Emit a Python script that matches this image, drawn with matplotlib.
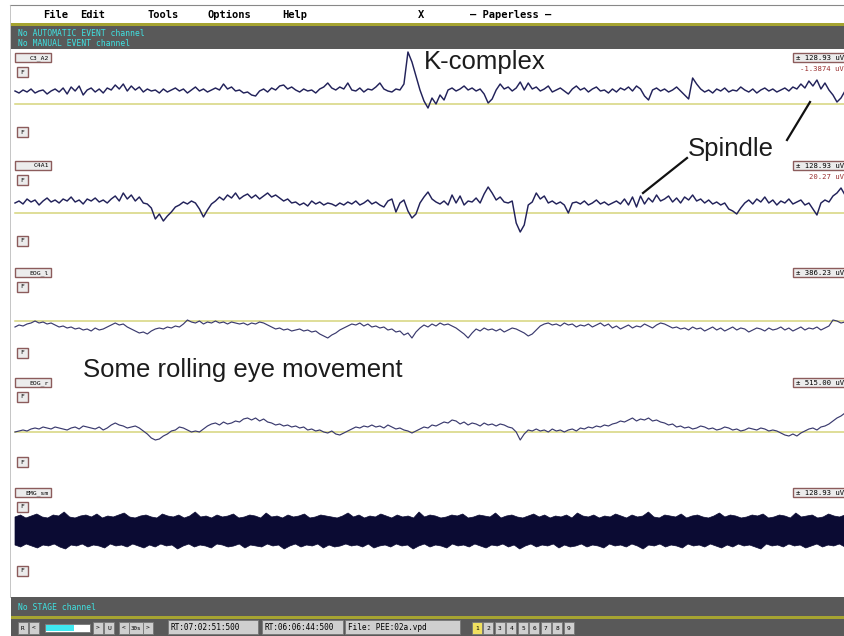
import numpy as np
import matplotlib.pyplot as plt
from matplotlib.patches import Rectangle

# ---- chart content ----
channels = ['C3_A2', 'C4A1', 'EOG_l', 'EOG_r', 'EMG_sm']
scales = ['± 128.93 uV', '± 128.93 uV', '± 386.23 uV', '± 515.00 uV', '± 128.93 uV']
cursor_vals = ['-1.3874 uV', '20.27 uV', '', '', '']
menu_items = ['File', 'Edit', 'Tools', 'Options', 'Help']
page_buttons = ['1', '2', '3', '4', '5', '6', '7', '8', '9']
status_boxes = ['RT:07:02:51:500', 'RT:06:06:44:500', 'File: PEE:02a.vpd']

# traces (screen pixels above each channel baseline)
c3a2 = [1, -1, 2, 0, 3, -1, 1, 2, -2, 1,
        3, 0, 4, -2, 5, 1, 6, -3, 2, 4,
        0, 3, -1, 4, 2, 7, 3, 8, 1, 6,
        2, 5, 0, 3, 1, 2, -1, 3, 0, 2,
        4, 1, 3, -1, 2, 5, 1, 3, 0, 2,
        4, 2, 8, 3, 5, 1, 2, -1, 0, -3,
        -4, 1, 3, 0, 4, 2, 6, 7, 3, 5,
        2, 0, 3, 1, 2, -1, 3, 5, 9, 4,
        2, 5, 3, 9, 2, 1, 4, 0, 3, 2,
        5, 9, 3, 1, 0, 3, 2, 8, 40, 30,
        16, 2, -9, -16, -6, -12, -3, -8, 2, 4,
        1, 3, 6, 2, 4, 1, 3, -2, -11, -7,
        2, 8, 3, 5, 1, 4, 10, 2, 9, 3,
        5, 1, 3, 6, 0, 2, 4, 1, -2, 3,
        6, 2, 4, 0, 3, 5, 1, 2, -1, 3,
        0, 4, 2, 5, 1, 6, 3, -4, -8, 2,
        4, 1, 3, 0, 2, 5, 1, -3, -7, 14,
        8, 3, 0, 2, -1, 3, 1, 4, 0, 2,
        1, 5, 2, 0, 3, -1, 2, 4, 1, 3,
        0, 2, 4, 1, 5, 3, 8, 4, 11, 6,
        12, 3, 9, 2, -3, -10, -6, 1]

c4a1 = [2, 4, 1, 6, 3, 5, 0, 4, 7, 3,
        5, 2, 6, 4, 8, 3, 5, 1, 6, 4,
        7, 3, 5, 2, 6, 9, 4, 12, 6, 10,
        4, 8, 2, 1, -3, -14, -9, -16, -11, -7,
        -2, 0, 3, 1, 4, 2, -4, -12, -5, 1,
        4, 8, 5, 10, 7, 12, 6, 9, 11, 7,
        10, 6, 9, 12, 8, 10, 7, 4, 6, 2,
        3, 0, 2, -1, 4, 1, 3, 0, 2, 1,
        -1, 2, 0, 3, 1, 4, 0, 2, 5, 1,
        3, 0, -2, 4, 6, -7, 2, 5, -6, -13,
        -9, 2, 8, 13, 6, 3, 1, 4, 0, 10,
        2, 9, 0, 4, 3, 7, 2, 11, 18, 12,
        5, 8, 3, 2, 4, -18, -27, -20, 0, 3,
        12, 6, 9, 2, 4, 1, 3, 0, -8, 2,
        3, 1, 4, 0, 2, 5, 1, 3, 0, 2,
        4, 1, 6, 0, 8, -2, 9, 1, 7, 3,
        10, 4, 6, 9, 3, 7, 2, 8, 5, 10,
        4, 6, 2, 5, 1, 3, 0, 2, -4, -6,
        -9, -3, 2, 5, 1, 6, 3, 8, 2, 5,
        0, 4, 2, 6, 1, 3, 5, 0, 2, -4,
        -10, 2, 5, 3, 9, 12, 17, 10]

eog_l = [-1, 1, 0, 2, 3, 5, 3, 4, 2, 3,
         1, -1, 0, -2, -1, -3, -2, -4, -3, -5,
         -2, -4, -3, -1, 1, 3, 1, 2, -1, -3,
         -5, -7, -6, -8, -5, -3, -2, -3, -1, -2,
         0, -1, 2, 6, 4, 3, 5, 2, 4, 3,
         5, 3, 4, 2, 4, 3, 2, 3, 1, 3,
         2, 4, 3, 1, -1, -3, -2, -4, -3, -5,
         -4, -3, -5, -4, -6, -5, -8, -10, -12, -9,
         -7, -4, -2, 0, 2, 1, 3, 0, 2, -1,
         0, -2, -1, -4, -3, -6, -5, -9, -7, -12,
         -6, -2, 1, -1, 2, 0, 3, 1, 2, 0,
         -2, -5, -8, -12, -7, -3, -5, -2, -4, -3,
         -5, -3, -6, -4, -2, -3, -5, -7, -10, -8,
         -4, 0, 2, 3, 1, 2, 0, 3, 1, 2,
         -1, 1, 0, 2, -1, 1, 3, 0, 2, -2,
         0, -3, -1, 1, -2, 0, -1, 2, 0, -2,
         1, 3, 2, 0, -2, -1, -3, -2, -4, -1,
         -3, -2, -5, -3, -1, -4, -2, -5, -3, -1,
         -4, -2, -3, -6, -4, -2, -3, -5, -2, -4,
         -3, -1, -4, -2, -5, -3, -1, -4, -2, -3,
         -1, -4, -2, 0, 6, 5, 3, 4]

eog_r = [-4, -3, -2, -3, -1, 0, -1, 1, 0, -1,
         1, 0, -1, -2, 0, 1, -1, 2, 1, 0,
         -1, 1, -2, 0, 3, 5, 3, 2, 0, 1,
         2, 0, -3, -6, -10, -12, -11, -8, -6, -3,
         -2, 1, 0, -2, -4, -3, -4, -1, 2, 4,
         5, 3, 6, 4, 5, 7, 6, 9, 10, 8,
         10, 7, 9, 6, 5, 3, 4, 2, 3, 1,
         2, 0, 1, -2, -1, -3, -2, -4, -5, -3,
         -6, -7, -5, -3, -1, 1, 0, 2, 1, 3,
         1, 2, 0, 3, 1, -1, 0, -2, -3, -5,
         -3, -1, 1, 0, 3, 2, 4, 6, 5, 8,
         7, 4, 6, 3, 5, 4, 2, 5, 3, 4,
         2, 4, 3, 1, 0, -4, -12, -6, -2, -3,
         -1, -3, -2, -4, -1, -3, -2, -4, -2, -1,
         -3, 0, -1, 1, 0, 2, 1, 3, 2, 4,
         5, 7, 6, 8, 10, 7, 9, 8, 10, 7,
         8, 6, 5, 3, 4, 1, 2, 0, 1, -1,
         0, 2, 1, -1, 0, -2, -1, 1, 0, -2,
         -1, -3, -2, 0, -1, -2, 0, -1, -3, -2,
         -3, -5, -7, -8, -6, -8, -5, -3, -1, 0,
         -2, 1, 2, 4, 7, 10, 12, 15]

# EMG is drawn as a solid band between its upper and lower envelopes
emg_top = [14, 16, 13, 15, 17, 14, 13, 16, 15, 19, 14, 13, 15, 16, 14, 17, 13, 15, 14, 16,
           18, 14, 13, 15, 16, 14, 13, 17, 15, 14, 16, 13, 15, 19, 14, 15, 13, 16, 14, 15,
           17, 13, 14, 16, 15, 13, 18, 14, 15, 13, 16, 14, 15, 17, 13, 14, 16, 15, 14, 13,
           15, 18, 14, 16, 13, 15, 14, 17, 15, 13, 16, 14, 15, 13, 19, 14, 16, 15, 13, 14,
           16, 15, 17, 13, 14, 16, 15, 14, 18, 13, 15, 16, 14, 13, 15, 17, 14, 16, 13, 15,
           14, 16, 13, 18, 15, 14, 16, 13, 15, 14, 17, 15, 13, 16, 14, 15, 19, 14, 13, 16,
           15, 14, 17, 13, 15, 16, 14, 13, 15, 18, 14, 16, 15, 13, 14, 16, 15, 17, 13, 14,
           16, 15, 13, 18, 14, 15, 16, 13, 14, 17, 15, 14, 16]
emg_bot = [-14, -16, -13, -15, -17, -14, -15, -13, -16, -18, -14, -15, -13, -16, -14, -15, -17, -13, -15, -14,
           -16, -13, -15, -17, -14, -16, -13, -15, -14, -18, -15, -13, -16, -14, -15, -17, -13, -14, -16, -15,
           -13, -17, -14, -15, -16, -13, -15, -14, -18, -15, -13, -16, -14, -15, -13, -17, -14, -16, -15, -13,
           -15, -14, -16, -13, -17, -15, -14, -16, -13, -15, -14, -18, -15, -13, -16, -14, -15, -17, -13, -15,
           -14, -16, -13, -15, -17, -14, -15, -13, -16, -14, -18, -15, -13, -16, -14, -15, -13, -17, -14, -16,
           -15, -13, -16, -14, -15, -17, -13, -15, -14, -16, -13, -15, -18, -14, -15, -13, -16, -14, -15, -17,
           -13, -15, -14, -16, -13, -15, -17, -14, -16, -13, -15, -14, -16, -18, -13, -15, -14, -16, -13, -15,
           -14, -17, -15, -13, -16, -14, -15, -13, -16]

# ---- layout (screen pixels) ----
W, H = 845, 636
baselines = [92, 205, 326, 428, 531]
ref_lines = [104, 213, 321, 432]
name_box_y = [53, 161, 268, 378, 488]
low_box_y = [127, 236, 348, 457, 566]
X0, X1 = 15, 845

TRACE = '#22225a'
GRAY = '#595959'
OLIVE = '#a6a431'
CYAN = '#3fe3e3'
BOXEDGE = '#8c5c5c'
MONO = 'DejaVu Sans Mono'
SANS = ['Liberation Sans', 'DejaVu Sans']

fig = plt.figure(figsize=(W / 100, H / 100), dpi=100)
ax = fig.add_axes([0, 0, 1, 1])
ax.set_xlim(0, W)
ax.set_ylim(H, 0)
ax.axis('off')


def box(x, y, w, h, fc='#ececec', ec=BOXEDGE, lw=1.0):
    ax.add_patch(Rectangle((x, y), w, h, facecolor=fc, edgecolor=ec, lw=lw, zorder=3))


# window frame + menu bar
ax.plot([10, W], [5, 5], color='#888888', lw=0.8)
ax.plot([10.5, 10.5], [5, 597], color='#bbbbbb', lw=0.6)
menu_x = [43, 80, 148, 208, 282]
for lab, mx in zip(menu_items, menu_x):
    ax.text(mx, 14.5, lab, family=MONO, fontweight='bold', fontsize=7.5, va='center')
ax.text(418, 14.5, 'X', family=MONO, fontweight='bold', fontsize=7.5, va='center')
ax.text(470, 14.5, '— Paperless —', family=MONO, fontweight='bold', fontsize=7.5, va='center')

# top event bar
ax.add_patch(Rectangle((11, 23), W - 11, 26, facecolor=GRAY, edgecolor='none'))
ax.add_patch(Rectangle((11, 23), W - 11, 3, facecolor=OLIVE, edgecolor='none'))
ax.text(18, 33, 'No AUTOMATIC EVENT channel', color=CYAN, family=MONO, fontsize=5.8, va='center')
ax.text(18, 43, 'No MANUAL EVENT channel', color=CYAN, family=MONO, fontsize=5.8, va='center')

# reference lines
for ry in ref_lines:
    ax.plot([X0, X1], [ry, ry], color='#d6d47c', lw=1.1, zorder=1)

# traces: EEG darker/heavier, EOG lighter
for sig, base, lw, col in zip([c3a2, c4a1, eog_l, eog_r], baselines[:4],
                              [1.05, 1.05, 0.85, 0.85],
                              [TRACE, TRACE, '#3a3a6e', '#3a3a6e']):
    xs = np.linspace(X0, X1, len(sig))
    ax.plot(xs, base - np.array(sig), color=col, lw=lw, zorder=2)

xt = np.linspace(X0, X1, len(emg_top))
xb = np.linspace(X0, X1, len(emg_bot))
ax.fill(np.r_[xt, xb[::-1]], np.r_[baselines[4] - np.array(emg_top), baselines[4] - np.array(emg_bot)[::-1]],
        color='#0b0b33', lw=0.5, zorder=2)

# channel label boxes
for name, sc, cv, ny, ly in zip(channels, scales, cursor_vals, name_box_y, low_box_y):
    box(15, ny, 36, 9)
    ax.text(49, ny + 4.8, name, family=MONO, fontsize=4.6, ha='right', va='center', zorder=4)
    box(17, ny + 14, 11, 10)
    ax.text(22.5, ny + 19, 'F', family=MONO, fontsize=4.5, ha='center', va='center', zorder=4)
    box(17, ly, 11, 10)
    ax.text(22.5, ly + 5, 'F', family=MONO, fontsize=4.5, ha='center', va='center', zorder=4)
    box(793, ny, 60, 9)
    ax.text(796, ny + 4.8, sc, family=MONO, fontsize=5.2, va='center', zorder=4)
    if cv:
        ax.text(844, ny + 16, cv, family=MONO, fontsize=5.2, color='#9a3030',
                ha='right', va='center', zorder=4)

# annotations
ax.text(424, 62, 'K-complex', family=SANS, fontsize=18.5, color='#1c1c1c', va='center')
ax.text(688, 149, 'Spindle', family=SANS, fontsize=18.5, color='#1c1c1c', va='center')
ax.text(83, 370, 'Some rolling eye movement', family=SANS, fontsize=18.5, color='#1c1c1c', va='center')
ax.plot([810, 787], [102, 140], color='#111111', lw=1.6, zorder=5)
ax.plot([687, 643], [158, 193], color='#111111', lw=1.6, zorder=5)

# bottom status bar
ax.add_patch(Rectangle((11, 597), W - 11, H - 597, facecolor=GRAY, edgecolor='none'))
ax.add_patch(Rectangle((11, 616), W - 11, 3, facecolor=OLIVE, edgecolor='none'))
ax.text(18, 607, 'No STAGE channel', color=CYAN, family=MONO, fontsize=5.8, va='center')

by, bh = 622, 12
for bx, lab in [(18, 'R'), (29, '<'), (93, '>'), (104, 'U'), (119, '<'), (143, '>')]:
    box(bx, by, 10, bh, fc='#cfcfcf', ec='#777777', lw=0.6)
    ax.text(bx + 5, by + 6, lab, family=MONO, fontsize=4.5, ha='center', va='center', zorder=4)
box(45, by + 2, 45, bh - 4, fc='white', ec='#777777', lw=0.6)
ax.add_patch(Rectangle((46, by + 3), 28, bh - 6, facecolor='#3fe8ef', edgecolor='none', zorder=4))
box(129, by, 14, bh, fc='#cfcfcf', ec='#777777', lw=0.6)
ax.text(136, by + 6, '30s', family=MONO, fontsize=4.2, ha='center', va='center', zorder=4)

status_x = [168, 262, 345]
status_w = [90, 81, 115]
for lab, sx, sw in zip(status_boxes, status_x, status_w):
    box(sx, by - 2, sw, bh + 2, fc='#cfcfcf', ec='#777777', lw=0.6)
    ax.text(sx + 3, by + 5, lab, family=MONO, fontsize=5.6, va='center', zorder=4)

for i, lab in enumerate(page_buttons):
    bx = 472 + i * 11.5
    box(bx, by, 10, bh, fc='#f0e060' if i == 0 else '#cfcfcf', ec='#777777', lw=0.6)
    ax.text(bx + 5, by + 6, lab, family=MONO, fontsize=4.5, ha='center', va='center', zorder=4)

fig.savefig('out.png', dpi=100)
